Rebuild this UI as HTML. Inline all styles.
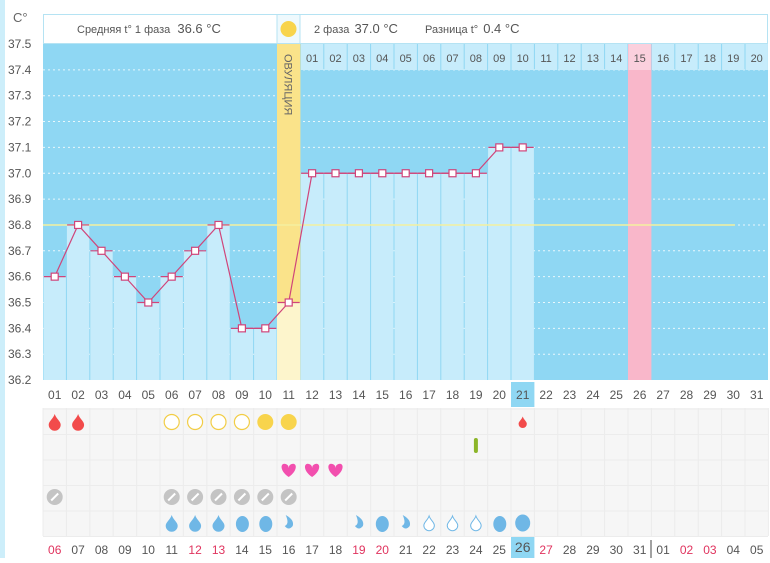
<!DOCTYPE html>
<html><head><meta charset="utf-8"><style>
body{margin:0;background:#fff;width:770px;height:558px;overflow:hidden;font-family:"Liberation Sans","DejaVu Sans",sans-serif}
</style></head><body>
<svg width="770" height="558" xmlns="http://www.w3.org/2000/svg" font-family="Liberation Sans, DejaVu Sans, sans-serif">
<rect x="0" y="0" width="5" height="558" fill="#cdeefa"/>
<text x="13" y="22" font-size="13" fill="#666">C°</text>
<!-- header -->
<rect x="43.5" y="14.5" width="724" height="29" fill="#fff" stroke="#b5e3f3"/>
<rect x="277" y="15" width="23" height="28" fill="#eef9fd"/>
<line x1="277" y1="14" x2="277" y2="44" stroke="#b5e3f3"/>
<line x1="300" y1="14" x2="300" y2="44" stroke="#b5e3f3"/>
<circle cx="288.5" cy="29" r="8" fill="#f8d44c"/>
<text x="77" y="33" font-size="11" fill="#555">Средняя t° 1 фаза <tspan font-size="13" dx="4">36.6 °C</tspan></text>
<text x="314" y="33" font-size="11" fill="#555">2 фаза <tspan font-size="13" dx="2">37.0 °C</tspan></text>
<text x="425" y="33" font-size="11" fill="#555">Разница t° <tspan font-size="13" dx="2">0.4 °C</tspan></text>
<!-- plot bg -->
<rect x="43" y="44" width="725" height="336" fill="#8fd7f3"/>
<g id="cols"></g>
</svg>
<script>
const s=document.querySelector('svg'),NS='http://www.w3.org/2000/svg';
function el(t,a,txt){const e=document.createElementNS(NS,t);for(const k in a)e.setAttribute(k,a[k]);if(txt!=null)e.textContent=txt;s.appendChild(e);return e}
const W=23.4,X0=43,cx=i=>X0+(i-0.5)*W,Y=v=>44+(37.5-v)*258.5;
// grid lines
for(let v=37.4;v>36.25;v-=0.1){el('line',{x1:43,x2:768,y1:Y(v),y2:Y(v),stroke:'#fff','stroke-dasharray':'2,3','stroke-width':1,opacity:0.8})}
const d=[36.6,36.8,36.7,36.6,36.5,36.6,36.7,36.8,36.4,36.4,36.5,37,37,37,37,37,37,37,37,37.1,37.1];
// ovulation col
el('rect',{x:cx(11)-W/2,y:44,width:W,height:336,fill:'#fae38a'});
el('rect',{x:cx(11)-W/2,y:Y(36.5),width:W,height:380-Y(36.5),fill:'#fdf5cc'});
const t=el('text',{x:0,y:0,'font-size':11,fill:'#666',transform:`translate(${cx(11)-4},54) rotate(90)`},'ОВУЛЯЦИЯ');
// pink col
el('rect',{x:cx(26)-W/2,y:44,width:W,height:336,fill:'#f9b7ca'});
// bars
d.forEach((v,i)=>{if(i==10)return;el('rect',{x:cx(i+1)-W/2+0.5,y:Y(v),width:W-1,height:380-Y(v),fill:'#c7ecfb'})});
// phase2 numbers row
for(let k=1;k<=20;k++){const c=11+k;el('rect',{x:cx(c)-W/2+0.5,y:44,width:W-1,height:26,fill:c==26?'#fbd0dd':'#c7ecfb'});el('text',{x:cx(c),y:62,'font-size':11,fill:'#555','text-anchor':'middle'},String(k).padStart(2,'0'))}
// avg line
el('line',{x1:43,x2:735,y1:Y(36.8),y2:Y(36.8),stroke:'#f4f0a0','stroke-width':1.5});
// curve
el('polyline',{points:d.map((v,i)=>cx(i+1)+','+Y(v)).join(' '),fill:'none',stroke:'#d0457a','stroke-width':1.2});
d.forEach((v,i)=>{el('line',{x1:cx(i+1)-11,x2:cx(i+1)+11,y1:Y(v),y2:Y(v),stroke:'#d0457a','stroke-width':1.2});el('rect',{x:cx(i+1)-3.5,y:Y(v)-3.5,width:7,height:7,fill:'#fff',stroke:'#d0457a','stroke-width':1.2})});
// y labels
for(let k=0;k<=13;k++){const v=(37.5-k*0.1);el('text',{x:8,y:Y(v)+4,'font-size':12,fill:'#555'},v.toFixed(1))}
// lower area
el('rect',{x:43,y:408,width:725,height:128,fill:'#f6f6f6'});
for(let r=0;r<6;r++)el('line',{x1:43,x2:768,y1:409+r*25.5,y2:409+r*25.5,stroke:'#ececec'});
for(let c=0;c<=31;c++)el('line',{x1:X0+c*W,x2:X0+c*W,y1:408,y2:536,stroke:'#ececec'});
el('rect',{x:cx(21)-W/2,y:382,width:W,height:25,fill:'#8fd7f3'});
for(let c=1;c<=31;c++)el('text',{x:cx(c),y:399,'font-size':12,fill:'#555','text-anchor':'middle'},String(c).padStart(2,'0'));
const bot=[6,7,8,9,10,11,12,13,14,15,16,17,18,19,20,21,22,23,24,25,26,27,28,29,30,31,1,2,3,4,5],red=[6,12,13,19,20,27];
el('rect',{x:cx(21)-W/2,y:537,width:W,height:21,fill:'#8fd7f3'});
bot.forEach((n,i)=>{const r=(i<26&&red.includes(n))||(i>=26&&(n==2||n==3));el('text',{x:cx(i+1),y:i==20?552:554,'font-size':i==20?14:12,fill:r?'#e0335e':'#555','text-anchor':'middle'},String(n).padStart(2,'0'))});
el('line',{x1:651,x2:651,y1:540,y2:558,stroke:'#444'});
// icons
const drop=(x,y,sz,fill,stroke)=>el('path',{d:`M${x} ${y-sz} C${x+sz*0.2} ${y-sz*0.4} ${x+sz*0.75} ${y-sz*0.1} ${x+sz*0.75} ${y+sz*0.35} A${sz*0.75} ${sz*0.75} 0 0 1 ${x-sz*0.75} ${y+sz*0.35} C${x-sz*0.75} ${y-sz*0.1} ${x-sz*0.2} ${y-sz*0.4} ${x} ${y-sz}Z`,fill,stroke:stroke||'none','stroke-width':1});
drop(cx(1),422,8,'#f24b4b');drop(cx(2),422,8,'#f24b4b');drop(cx(21),422,5.5,'#f24b4b');
[6,7,8,9].forEach(c=>el('circle',{cx:cx(c),cy:422,r:7.5,fill:'#fff',stroke:'#f2cd45','stroke-width':1.2}));
[10,11].forEach(c=>el('circle',{cx:cx(c),cy:422,r:8,fill:'#f8d44c'}));
el('rect',{x:cx(19)-2,y:438,width:4,height:15,rx:2,fill:'#8cb529'});
[11,12,13].forEach(c=>el('path',{d:`M${cx(c)} ${477} C${cx(c)-10} ${470} ${cx(c)-8} ${462} ${cx(c)-3} ${464} Q${cx(c)} ${465} ${cx(c)} ${468} Q${cx(c)} ${465} ${cx(c)+3} ${464} C${cx(c)+8} ${462} ${cx(c)+10} ${470} ${cx(c)} ${477}Z`,fill:'#f24fae'}));
[1,6,7,8,9,10,11].forEach(c=>{el('circle',{cx:cx(c),cy:497,r:8,fill:'#c4c4c4'});el('line',{x1:cx(c)-3.5,y1:500.5,x2:cx(c)+3.5,y2:493.5,stroke:'#fff','stroke-width':2})});
[6,7,8].forEach(c=>drop(cx(c),523,8,'#6fb7e6'));
[9,10,20].forEach(c=>el('ellipse',{cx:cx(c)+0.5,cy:524,rx:6.5,ry:8,fill:'#6fb7e6'}));
el('ellipse',{cx:cx(15),cy:524,rx:6.5,ry:8,fill:'#6fb7e6'});
[11,14,16].forEach(c=>el('path',{d:`M${cx(c)-3} ${515} Q${cx(c)+6} ${520} ${cx(c)+4} ${526} Q${cx(c)} ${531} ${cx(c)-4} ${526} Q${cx(c)+1} ${524} ${cx(c)-3} ${515}Z`,fill:'#6fb7e6'}));
[17,18,19].forEach(c=>drop(cx(c),523,7,'#fff','#6fb7e6'));
el('ellipse',{cx:cx(21),cy:523,rx:7.5,ry:8.5,fill:'#6fb7e6'});
</script>
</body></html>
